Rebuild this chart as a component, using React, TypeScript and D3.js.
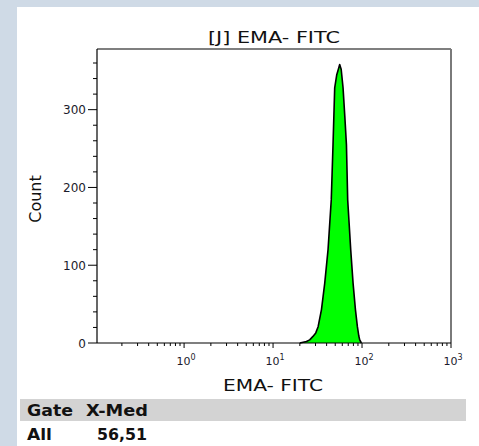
import React from "react";
import * as d3 from "d3";

// Histogram data (EMA-FITC intensity vs. event count)
const fitcValues = [20.0, 21.8, 23.7, 25.8, 28.1, 30.2, 32.1, 35.0, 38.1, 41.5, 45.1, 47.2, 49.3, 52.0, 54.2, 56.1, 57.2, 58.3, 61.2, 64.0, 66.8, 69.0, 74.6, 79.3, 84.3, 88.7, 92.0, 94.2, 98.4];
const counts = [0, 1, 2, 4, 8.5, 13, 21, 43, 77, 120, 184, 255, 328, 345, 352, 358, 355, 352, 328, 292, 255, 184, 120, 77, 43, 21, 9, 4, 0];

const yMajorTicks = [0, 100, 200, 300];
const yMinorTicks = [20, 40, 60, 80, 120, 140, 160, 180, 220, 240, 260, 280, 320, 340, 360];
const xDecades = [0, 1, 2, 3];
const gateHeaders = ["Gate", "X-Med"];
const gateRows = [["All", "56,51"]];

const W = 479;
const H = 446;
const left = 97, right = 451, top = 49, bottom = 343;
const FONT = "'DejaVu Sans', Verdana, sans-serif";

export default function App() {
  const x = d3.scaleLog().domain([0.105, 1000]).range([left, right]);
  const y = d3.scaleLinear().domain([0, 378]).range([bottom, top]);

  const pts: [number, number][] = fitcValues.map((v, i) => [v, counts[i]]);
  const area = d3
    .area<[number, number]>()
    .x((d) => x(d[0]))
    .y0(y(0))
    .y1((d) => y(d[1]));
  const line = d3
    .line<[number, number]>()
    .x((d) => x(d[0]))
    .y((d) => y(d[1]));

  const xMinor: number[] = [];
  for (let e = -1; e <= 2; e++) {
    for (let k = 2; k <= 9; k++) {
      const v = k * Math.pow(10, e);
      if (v > 0.105 && v < 1000) xMinor.push(v);
    }
  }

  const bold = { fontFamily: FONT, fontSize: 16, fontWeight: "bold" as const, fill: "#111" };

  return (
    <svg width={W} height={H} style={{ position: "absolute", left: 0, top: 0, background: "#fff" }}>
      <rect x={0} y={0} width={W} height={7} fill="#cfdae6" />
      <rect x={0} y={0} width={17} height={H} fill="#cfdae6" />

      {/* Title */}
      <text x={208} y={43} fontFamily={FONT} fontSize={16.5} fill="#111" textLength={132} lengthAdjust="spacingAndGlyphs">
        [J] EMA- FITC
      </text>

      {/* histogram */}
      <path d={area(pts) || ""} fill="#00ff00" />
      <path d={line(pts) || ""} fill="none" stroke="#000" strokeWidth={1.6} strokeLinejoin="round" />

      {/* frame */}
      <line x1={left} x2={right} y1={top} y2={top} stroke="#000" strokeWidth={1.2} />
      <line x1={right} x2={right} y1={top} y2={bottom} stroke="#7a7a7a" strokeWidth={2} />

      {/* y axis */}
      <line x1={left} x2={left} y1={top} y2={bottom} stroke="#000" strokeWidth={1.2} />
      {yMinorTicks.map((t) => (
        <line key={"ym" + t} x1={left - 4} x2={left} y1={y(t)} y2={y(t)} stroke="#000" strokeWidth={1} />
      ))}
      {yMajorTicks.map((t) => (
        <g key={"yM" + t}>
          <line x1={left - 9} x2={left} y1={y(t)} y2={y(t)} stroke="#000" strokeWidth={1} />
          <text x={left - 11} y={y(t) + 4.5} textAnchor="end" fontFamily={FONT} fontSize={12} fill="#1c1c2c">
            {t}
          </text>
        </g>
      ))}
      <text transform={`translate(41,199) rotate(-90)`} textAnchor="middle" fontFamily={FONT} fontSize={16} fill="#111">
        Count
      </text>

      {/* x axis */}
      <line x1={left} x2={right} y1={bottom} y2={bottom} stroke="#000" strokeWidth={1.2} />
      {xMinor.map((v) => (
        <line key={"xm" + v} x1={x(v)} x2={x(v)} y1={bottom} y2={bottom + 3} stroke="#000" strokeWidth={1} />
      ))}
      {xDecades.map((e) => {
        const px = x(Math.pow(10, e));
        return (
          <g key={"xM" + e}>
            <line x1={px} x2={px} y1={bottom} y2={bottom + 5} stroke="#000" strokeWidth={1} />
            <text x={px + 2} y={365} textAnchor="middle" fontFamily={FONT} fontSize={11} fill="#1c1c2c">
              10
              <tspan dy={-5} fontSize={8}>
                {e}
              </tspan>
            </text>
          </g>
        );
      })}
      <text x={223} y={391} fontFamily={FONT} fontSize={16.5} fill="#111" textLength={100} lengthAdjust="spacingAndGlyphs">
        EMA- FITC
      </text>

      {/* stats table */}
      <rect x={20} y={399} width={446} height={22} fill="#d3d3d3" />
      <text x={27} y={416} {...bold} textLength={46} lengthAdjust="spacingAndGlyphs">
        {gateHeaders[0]}
      </text>
      <text x={86} y={416} {...bold} textLength={62} lengthAdjust="spacingAndGlyphs">
        {gateHeaders[1]}
      </text>
      {gateRows.map((r, i) => (
        <g key={"row" + i}>
          <text x={27} y={440 + i * 22} {...bold} textLength={25} lengthAdjust="spacingAndGlyphs">
            {r[0]}
          </text>
          <text x={97} y={440 + i * 22} {...bold} textLength={50} lengthAdjust="spacingAndGlyphs">
            {r[1]}
          </text>
        </g>
      ))}
    </svg>
  );
}
